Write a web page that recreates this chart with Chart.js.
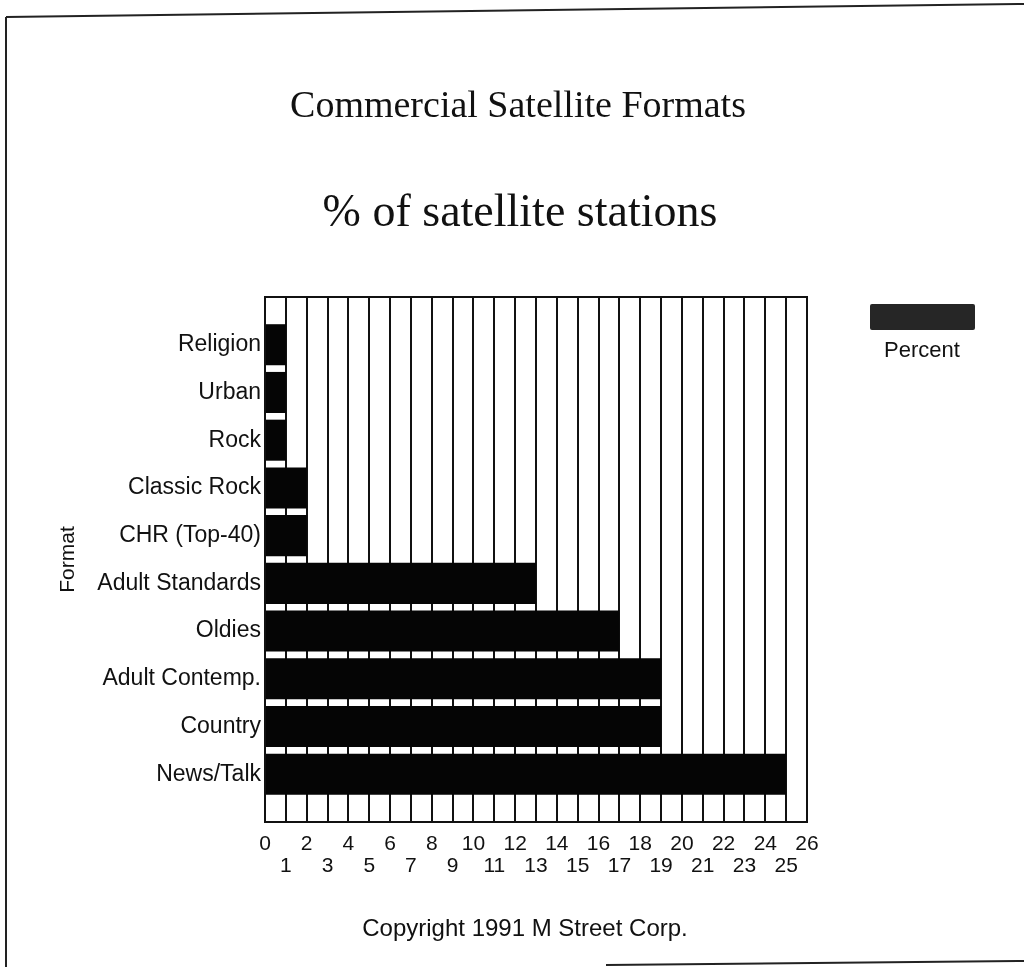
<!DOCTYPE html>
<html>
<head>
<meta charset="utf-8">
<script src="https://cdn.jsdelivr.net/npm/chart.js@4.4.0/dist/chart.umd.min.js"></script>
<style>
  html, body { margin: 0; padding: 0; background: #fff; }
  #page { position: relative; width: 1024px; height: 967px; overflow: hidden; }
  #myChart { position: absolute; left: 0; top: 0; }
  .title { position: absolute; left: 0; width: 1024px; text-align: center;
           font-family: "Liberation Serif", serif; color: #111; line-height: 1; }
  #title1 { top: 85px; font-size: 38px; left: 6px; }
  #title2 { top: 188px; font-size: 46px; left: 8px; }
  #copyright { position: absolute; top: 914px; left: 0; width: 1050px; text-align: center;
               font-family: "Liberation Sans", Arial, sans-serif; font-size: 24px; color: #111; }
  #legend { position: absolute; left: 862px; top: 304px; width: 120px; text-align: center;
            font-family: "Liberation Sans", Arial, sans-serif; font-size: 22px; color: #111; }
  #legend .box { width: 105px; height: 26px; margin: 0 auto 7px auto; border-radius: 2px; }
  svg { position: absolute; left: 0; top: 0; }
</style>
</head>
<body>
<div id="page">
  <canvas id="myChart" width="1024" height="967"></canvas>
  <div class="title" id="title1">Commercial Satellite Formats</div>
  <div class="title" id="title2">% of satellite stations</div>
  <div id="legend"></div>
  <div id="copyright">Copyright 1991 M Street Corp.</div>
  <svg width="1024" height="967">
    <line x1="6" y1="17" x2="1024" y2="4" stroke="#222" stroke-width="2"/>
    <line x1="6" y1="17" x2="6" y2="967" stroke="#222" stroke-width="2"/>
    <line x1="606" y1="965" x2="1024" y2="961" stroke="#222" stroke-width="2"/>
  </svg>
</div>
<script>
// data
const formats = ["Religion", "Urban", "Rock", "Classic Rock", "CHR (Top-40)",
  "Adult Standards", "Oldies", "Adult Contemp.", "Country", "News/Talk"];
const percent = [1, 1, 1, 2, 2, 13, 17, 19, 19, 25];
const seriesName = "Percent";
const axisTitle = "Format";
const xMax = 26;

// blank slots above and below the bars, like the original
const labels = [""].concat(formats, [""]);
const values = [null].concat(percent, [null]);

// frame round the plot area
const frame = {
  id: "frame",
  afterDatasetsDraw(chart) {
    const a = chart.chartArea, ctx = chart.ctx;
    ctx.save();
    ctx.strokeStyle = "#111";
    ctx.lineWidth = 2;
    ctx.strokeRect(a.left, a.top, a.right - a.left, a.bottom - a.top);
    ctx.restore();
  }
};

const chart = new Chart(document.getElementById("myChart"), {
  type: "bar",
  data: {
    labels: labels,
    datasets: [{
      label: seriesName,
      data: values,
      backgroundColor: "#050505",
      barPercentage: 0.86,
      categoryPercentage: 1
    }]
  },
  options: {
    indexAxis: "y",
    responsive: false,
    animation: false,
    layout: { padding: { left: 54, right: 217, top: 297, bottom: 85 } },
    plugins: { legend: { display: false }, tooltip: { enabled: false } },
    scales: {
      x: {
        min: 0,
        max: xMax,
        afterFit: (s) => { s.height = 60; },
        grid: { color: "#111", lineWidth: 2, drawTicks: false },
        border: { color: "#111", width: 2 },
        ticks: {
          stepSize: 1,
          autoSkip: false,
          maxRotation: 0,
          padding: 11,
          color: "#111",
          font: { family: "Liberation Sans", size: 21, lineHeight: 1.05 },
          callback: (v) => (v % 2 === 0 ? String(v) : ["", String(v)])
        }
      },
      y: {
        offset: false,
        afterFit: (s) => { s.width = 211; },
        grid: { display: false, drawTicks: false },
        border: { color: "#111", width: 2 },
        ticks: {
          autoSkip: false,
          padding: 4,
          color: "#111",
          font: { family: "Liberation Sans", size: 23 }
        },
        title: {
          display: true,
          text: axisTitle,
          color: "#111",
          font: { family: "Liberation Sans", size: 21 },
          padding: 2
        }
      }
    }
  },
  plugins: [frame]
});

// legend: box with the series name under it
const ds = chart.data.datasets[0];
document.getElementById("legend").innerHTML =
  '<div class="box" style="background:#262626"></div>' + ds.label;
</script>
</body>
</html>
